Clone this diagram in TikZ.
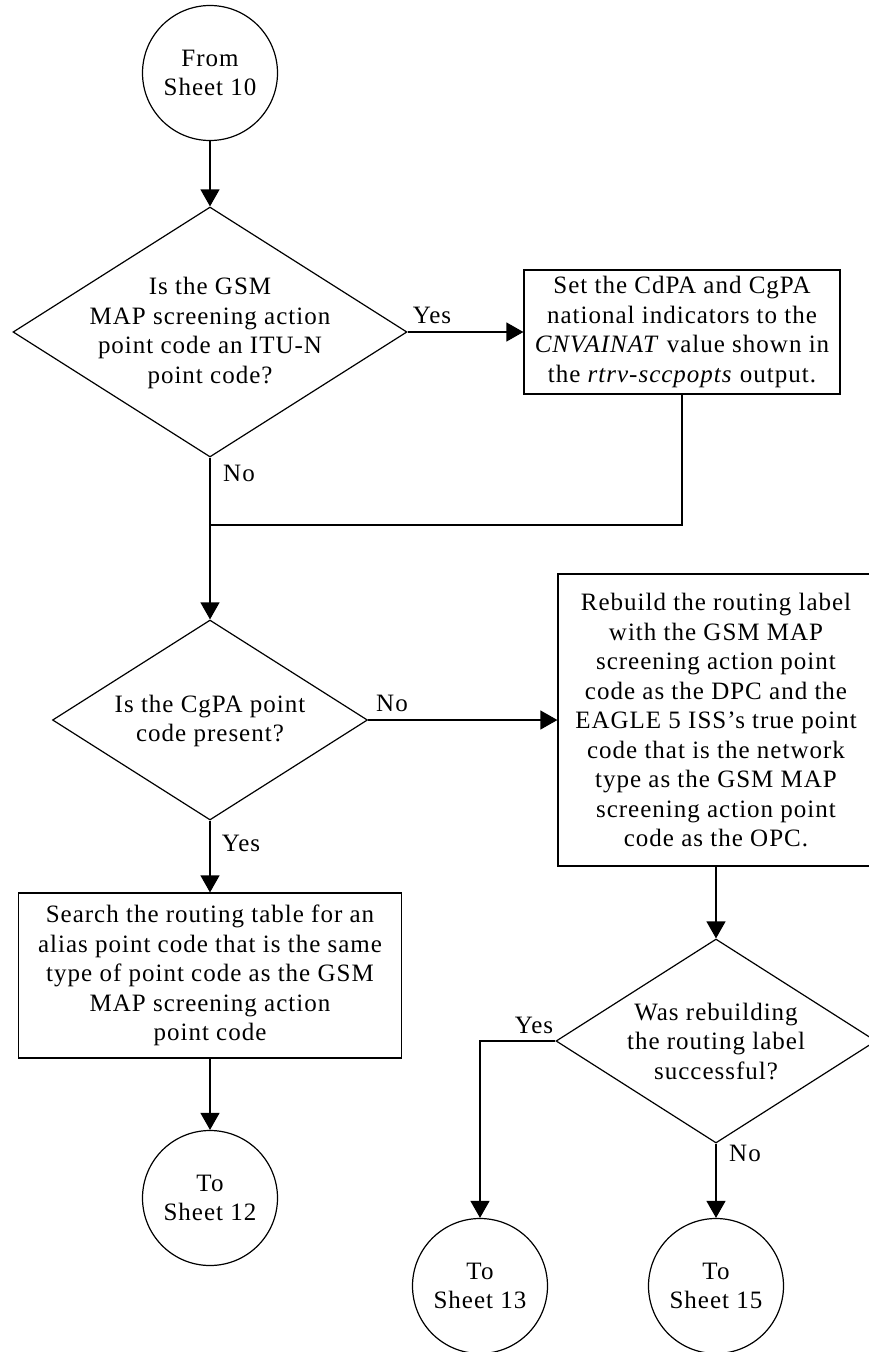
\documentclass[tikz,border=0pt]{standalone}
\usepackage{fontspec}
\setmainfont{Liberation Serif}[LetterSpace=4]
\usetikzlibrary{shapes.geometric,arrows.meta}
\begin{document}
\begin{tikzpicture}[x=1pt,y=-1pt,
  every node/.style={font=\fontsize{25}{29.5}\selectfont},
  conn/.style={line width=1.2pt,-{Triangle[length=17pt,width=19pt]}},
  plain/.style={line width=1.2pt},
  procbox/.style={draw,line width=1.2pt,rectangle,inner sep=0pt,align=center},
  decis/.style={draw,line width=1.2pt,diamond,inner sep=0pt},
  term/.style={draw,line width=1.2pt,circle,minimum size=135pt,inner sep=0pt,align=center},
  txt/.style={align=center,inner sep=0pt},
  lbl/.style={inner sep=0pt}]
\path[use as bounding box] (0,0) rectangle (869,1352);
\clip (0,0) rectangle (869,1352);

% terminals
\node[term] (c1) at (210,73) {From\\Sheet 10};
\node[term] (c12) at (210,1198) {To\\Sheet 12};
\node[term] (c13) at (480,1286) {To\\Sheet 13};
\node[term] (c15) at (716,1286) {To\\Sheet 15};

% decisions
\node[decis,minimum width=394pt,minimum height=250pt] (d1) at (210,332) {};
\node[txt] (t1) at (210,333) {Is the GSM\\MAP screening action\\point code an ITU-N\\point code?};
\node[decis,minimum width=315pt,minimum height=200pt] (d2) at (210,720) {};
\node[txt] (t2) at (210,721) {Is the CgPA point\\code present?};
\node[decis,minimum width=320pt,minimum height=204pt] (d3) at (716,1041) {};
\node[txt] (t3) at (716,1041) {Was rebuilding\\the routing label\\successful?};

% processes
\node[procbox,minimum width=316pt,minimum height=124pt] (b1) at (682,332)
  {Set the CdPA and CgPA\\national indicators to the\\\textit{CNVAINAT} value shown in\\the \textit{rtrv-sccpopts} output.};
\node[procbox,minimum width=316pt,minimum height=292pt] (b2) at (716,720)
  {Rebuild the routing label\\with the GSM MAP\\screening action point\\code as the DPC and the\\EAGLE 5 ISS’s true point\\code that is the network\\type as the GSM MAP\\screening action point\\code as the OPC.};
\node[procbox,minimum width=383pt,minimum height=165pt] (b3) at (210,975.5)
  {Search the routing table for an\\alias point code that is the same\\type of point code as the GSM\\MAP screening action\\point code};

\coordinate (m1) at (210,525);

% connectors
\draw[conn] (c1.south) -- (d1.north);
\draw[conn] (d1.east) -- (b1.west);
\draw[plain] (b1.south) |- (m1);
\draw[conn] (d1.south) -- (d2.north);
\draw[conn] (d2.east) -- (b2.west);
\draw[conn] (d2.south) -- (b3.north);
\draw[conn] (b3.south) -- (c12.north);
\draw[conn] (b2.south) -- (d3.north);
\draw[conn] (d3.west) -| (c13.north);
\draw[conn] (d3.south) -- (c15.north);

% labels
\node[lbl] (l1) at (432,315) {Yes};
\node[lbl] (l2) at (239,473) {No};
\node[lbl] (l3) at (392,703) {No};
\node[lbl] (l4) at (241,843) {Yes};
\node[lbl] (l5) at (534,1025) {Yes};
\node[lbl] (l6) at (745,1153) {No};
\end{tikzpicture}
\end{document}
